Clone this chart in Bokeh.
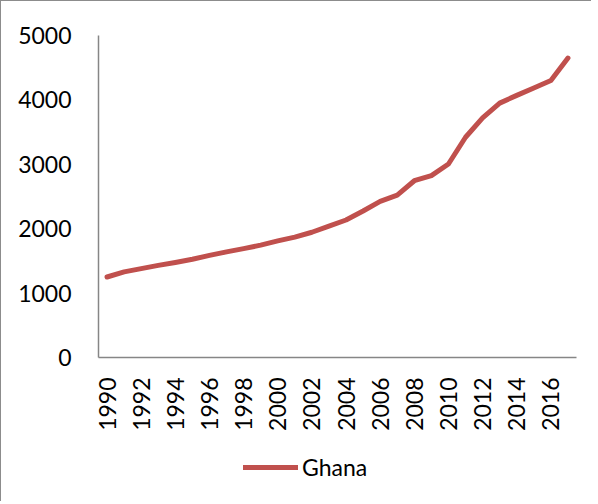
import math
from bokeh.plotting import figure
from bokeh.layouts import column
from bokeh.models import Range1d, FixedTicker, Legend, LegendItem, ColumnDataSource
from bokeh.embed import file_html
from bokeh.resources import INLINE

years = list(range(1990, 2018))
ghana = [1250, 1330, 1380, 1430, 1475, 1525, 1585, 1640, 1690, 1745,
         1810, 1870, 1945, 2040, 2135, 2275, 2425, 2520, 2745, 2825,
         3005, 3420, 3720, 3950, 4070, 4185, 4300, 4650]
x_ticks = list(range(1990, 2017, 2))
x_tick_labels = [str(y) for y in x_ticks]
y_ticks = [0, 1000, 2000, 3000, 4000, 5000]
series_name = "Ghana"

FONT = "Lato"
FS = "23px"
GRAY = "#868686"
RED = "#C0504D"

src = ColumnDataSource(dict(x=years, y=ghana))

p = figure(width=590, height=440, output_backend="svg", toolbar_location=None,
           x_range=Range1d(1989.5, 2017.5), y_range=Range1d(0, 5000),
           min_border_left=97, min_border_right=15, min_border_top=34,
           min_border_bottom=84)
p.outline_line_color = None
p.xgrid.visible = False
p.ygrid.visible = False

r = p.line("x", "y", source=src, line_color=RED, line_width=5,
           line_cap="round", line_join="round")

p.xaxis.ticker = FixedTicker(ticks=x_ticks)
p.xaxis.major_label_overrides = {t: l for t, l in zip(x_ticks, x_tick_labels)}
p.xaxis.major_label_orientation = math.pi / 2
p.yaxis.ticker = FixedTicker(ticks=y_ticks)
for ax in (p.xaxis, p.yaxis):
    ax.axis_line_color = GRAY
    ax.axis_line_width = 1.5
    ax.major_tick_line_color = None
    ax.minor_tick_line_color = None
    ax.major_label_text_font = FONT
    ax.major_label_text_font_size = FS
    ax.major_label_text_color = "#000000"
p.xaxis.major_label_standoff = 14
p.yaxis.major_label_standoff = 21

# legend strip below the chart (same series, its data lies outside this strip's ranges)
pl = figure(width=590, height=60, output_backend="svg", toolbar_location=None,
            x_range=Range1d(0, 590), y_range=Range1d(0, 60),
            x_axis_location=None, y_axis_location=None,
            min_border=0, min_border_left=0, min_border_right=0,
            min_border_top=0, min_border_bottom=0)
pl.grid.visible = False
pl.outline_line_color = None
rl = pl.line("x", "y", source=src, line_color=RED, line_width=5,
             line_cap="round", line_join="round")
legend = Legend(items=[LegendItem(label=series_name, renderers=[rl])],
                location=(145, 20), orientation="horizontal",
                glyph_width=55, glyph_height=24, label_height=24,
                label_standoff=4, padding=0, margin=0, spacing=0,
                label_text_font=FONT, label_text_font_size=FS,
                label_text_color="#000000",
                border_line_color=None, background_fill_alpha=0)
pl.add_layout(legend, "center")

layout = column(p, pl, spacing=0)
layout.styles = {"border-left": "1px solid #8c8c8c", "border-top": "1px solid #8c8c8c"}

open("out.html", "w").write(file_html(layout, INLINE))
